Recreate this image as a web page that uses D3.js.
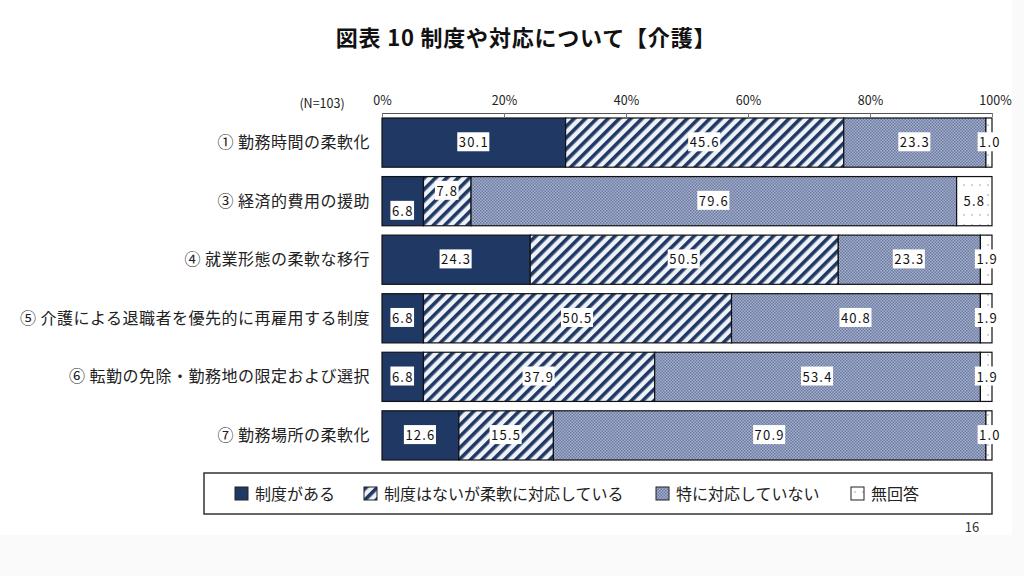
<!DOCTYPE html>
<html lang="ja">
<head>
<meta charset="UTF-8" />
<title>図表 10 制度や対応について【介護】</title>
<script src="https://d3js.org/d3.v7.min.js"></script>
<style>
  body { margin: 0; background: #fafafa; }
  svg { display: block; }
  text { font-family: "Noto Sans CJK JP", "Noto Sans", sans-serif; }
</style>
</head>
<body>
<script>
    // data
    var categories = [
        "① 勤務時間の柔軟化",
        "③ 経済的費用の援助",
        "④ 就業形態の柔軟な移行",
        "⑤ 介護による退職者を優先的に再雇用する制度",
        "⑥ 転勤の免除・勤務地の限定および選択",
        "⑦ 勤務場所の柔軟化"
    ];
    var seriesNames = ["制度がある", "制度はないが柔軟に対応している", "特に対応していない", "無回答"];
    var hasSystem = [30.1, 6.8, 24.3, 6.8, 6.8, 12.6];
    var flexible = [45.6, 7.8, 50.5, 50.5, 37.9, 15.5];
    var noResponse = [23.3, 79.6, 23.3, 40.8, 53.4, 70.9];
    var noAnswer = [1.0, 5.8, 1.9, 1.9, 1.9, 1.0];
    var tickValues = [0, 20, 40, 60, 80, 100];

    var w = 1024, h = 576;
    var plotLeft = 382, plotRight = 992, plotTop = 118;

    var svg = d3.select("body").append("svg")
        .attr("width", w)
        .attr("height", h);

    // slide background
    svg.append("rect").attr("x", 0).attr("y", 0)
        .attr("width", 1012).attr("height", 535).attr("fill", "#ffffff");

    // patterns
    var defs = svg.append("defs");
    var stripe = defs.append("pattern")
        .attr("id", "stripe")
        .attr("patternUnits", "userSpaceOnUse")
        .attr("width", 8).attr("height", 8)
        .attr("patternTransform", "rotate(45)");
    stripe.append("rect").attr("width", 8).attr("height", 8).attr("fill", "#eef1f8");
    stripe.append("rect").attr("x", 0).attr("width", 3.6).attr("height", 8).attr("fill", "#1f3864");

    var dots = defs.append("pattern")
        .attr("id", "dots")
        .attr("patternUnits", "userSpaceOnUse")
        .attr("width", 3).attr("height", 3);
    dots.append("rect").attr("width", 3).attr("height", 3).attr("fill", "#a4afcb");
    dots.append("rect").attr("width", 1.5).attr("height", 1.5).attr("fill", "#6c7ba3");
    dots.append("rect").attr("x", 1.5).attr("y", 1.5).attr("width", 1.5).attr("height", 1.5).attr("fill", "#6c7ba3");

    var sparse = defs.append("pattern")
        .attr("id", "sparse")
        .attr("patternUnits", "userSpaceOnUse")
        .attr("width", 8).attr("height", 10);
    sparse.append("rect").attr("width", 8).attr("height", 10).attr("fill", "#ffffff");
    sparse.append("circle").attr("cx", 4).attr("cy", 5).attr("r", 0.9).attr("fill", "#b8bcc8");

    var fills = ["#1f3864", "url(#stripe)", "url(#dots)", "url(#sparse)"];

    // title
    svg.append("text")
        .attr("x", 526).attr("y", 46)
        .attr("text-anchor", "middle")
        .attr("font-size", 22)
        .attr("font-weight", "bold")
        .attr("letter-spacing", 0.8)
        .attr("fill", "#111")
        .text("図表 10 制度や対応について【介護】");

    // scales
    var xScale = d3.scaleLinear().domain([0, 100]).range([plotLeft, plotRight]);
    var yScale = d3.scaleBand()
        .domain(categories)
        .range([plotTop, plotTop + 57 * categories.length])
        .paddingInner(0.16)
        .paddingOuter(0);

    // stacked data
    var rows = categories.map(function(c, i) {
        return { cat: c, "制度がある": hasSystem[i], "制度はないが柔軟に対応している": flexible[i],
                 "特に対応していない": noResponse[i], "無回答": noAnswer[i] };
    });
    var stacked = d3.stack().keys(seriesNames)(rows);

    // top axis
    var axis = d3.axisTop(xScale)
        .tickValues(tickValues)
        .tickSize(-4)
        .tickFormat(function(d) { return d + "%"; });
    var axisG = svg.append("g")
        .attr("transform", "translate(0," + (plotTop - 5) + ")")
        .call(axis);
    axisG.select(".domain").attr("stroke", "#555");
    axisG.selectAll(".tick line").attr("stroke", "#777");
    axisG.selectAll(".tick text")
        .attr("y", -8)
        .attr("font-size", 12.5)
        .attr("fill", "#222")
        .style("font-family", "'Noto Sans CJK JP', sans-serif");
    axisG.selectAll(".tick").filter(function(d) { return d === 100; })
        .select("text").attr("dx", 3);

    svg.append("text")
        .attr("x", 322).attr("y", 108)
        .attr("text-anchor", "middle")
        .attr("font-size", 12.5)
        .attr("fill", "#222")
        .text("(N=103)");

    // category labels
    svg.selectAll(".cat")
        .data(categories)
        .enter()
        .append("text")
        .attr("class", "cat")
        .attr("x", 370)
        .attr("y", function(d) { return yScale(d) + yScale.bandwidth() / 2; })
        .attr("dy", "0.35em")
        .attr("text-anchor", "end")
        .attr("font-size", 16)
        .attr("letter-spacing", 0.5)
        .attr("fill", "#222")
        .text(function(d) { return d; });

    // bars
    var groups = svg.selectAll(".series")
        .data(stacked)
        .enter()
        .append("g")
        .attr("class", "series")
        .attr("fill", function(d, i) { return fills[i]; });

    groups.selectAll("rect")
        .data(function(d) { return d; })
        .enter()
        .append("rect")
        .attr("x", function(d) { return xScale(d[0]); })
        .attr("y", function(d) { return yScale(d.data.cat); })
        .attr("width", function(d) { return xScale(d[1]) - xScale(d[0]); })
        .attr("height", yScale.bandwidth())
        .attr("stroke", "#111")
        .attr("stroke-width", 1.2);

    // value labels with white boxes
    var fmt = d3.format(".1f");
    var labels = [];
    stacked.forEach(function(s, si) {
        s.forEach(function(d, ri) {
            var dy = 0;
            if (ri === 1 && si === 0) dy = 10;
            if (ri === 1 && si === 1) dy = -10;
            labels.push({
                x: (xScale(d[0]) + xScale(d[1])) / 2 + (si === 3 && ri !== 1 ? 1 : 0),
                y: yScale(d.data.cat) + yScale.bandwidth() / 2 + dy,
                t: fmt(d[1] - d[0])
            });
        });
    });

    var lab = svg.selectAll(".lab")
        .data(labels)
        .enter()
        .append("g")
        .attr("class", "lab")
        .attr("transform", function(d) { return "translate(" + d.x + "," + d.y + ")"; });
    lab.append("text")
        .attr("text-anchor", "middle")
        .attr("dy", "0.36em")
        .attr("font-size", 13)
        .attr("letter-spacing", 1.2)
        .attr("fill", "#111")
        .text(function(d) { return d.t; });
    lab.each(function() {
        var g = d3.select(this);
        var bb = g.select("text").node().getBBox();
        g.insert("rect", "text")
            .attr("x", bb.x - 1.5).attr("y", bb.y)
            .attr("width", bb.width + 2).attr("height", bb.height)
            .attr("fill", "#ffffff");
    });

    // legend
    svg.append("rect")
        .attr("x", 204).attr("y", 473)
        .attr("width", 788).attr("height", 41)
        .attr("fill", "#ffffff")
        .attr("stroke", "#333")
        .attr("stroke-width", 1.5);

    var legendX = [235, 364, 656, 851];
    var leg = svg.selectAll(".leg")
        .data(seriesNames)
        .enter()
        .append("g")
        .attr("class", "leg")
        .attr("transform", function(d, i) { return "translate(" + legendX[i] + ",487)"; });
    leg.append("rect")
        .attr("width", 13).attr("height", 13)
        .attr("fill", function(d, i) { return fills[i]; })
        .attr("stroke", "#222")
        .attr("stroke-width", 1);
    leg.append("text")
        .attr("x", 20).attr("y", 7)
        .attr("dy", "0.36em")
        .attr("font-size", 16)
        .attr("fill", "#222")
        .text(function(d) { return d; });

    // page number
    svg.append("text")
        .attr("x", 972).attr("y", 532)
        .attr("text-anchor", "middle")
        .attr("font-size", 13)
        .attr("fill", "#333")
        .text("16");
</script>
</body>
</html>
